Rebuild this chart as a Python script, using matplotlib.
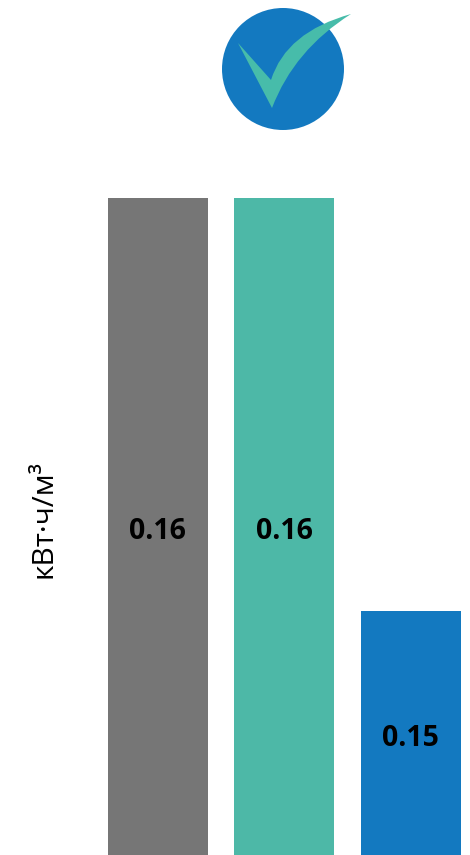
import matplotlib.pyplot as plt
from matplotlib.patches import Circle, PathPatch
from matplotlib.path import Path

# donnees
categories = ["A", "B", "C"]
positions = [0, 1, 2]
values = [0.16, 0.16, 0.15]
labels = ["0.16", "0.16", "0.15"]
colors = ["#767676", "#4DB8A7", "#1379C0"]
y_label = "кВт·ч/м³"

W, H = 470, 855
plt.rcParams['font.family'] = ['Open Sans', 'DejaVu Sans']

fig = plt.figure(figsize=(W / 100, H / 100), dpi=100)

# axes coupes : le bas de l'axe n'est pas a zero
ax = fig.add_axes([0, 0, 1, (H - 198) / H])
ax.bar(positions, values, width=0.79, color=colors)
ax.set_xlim(-157.8 / 126.5, (W - 157.8) / 126.5)
ax.set_ylim(0.1441, 0.16)
ax.axis('off')

for x, v, lab in zip(positions, values, labels):
    ax.text(x, 0.1441 + (v - 0.1441) / 2 - 0.00012, lab, ha='center', va='center',
            fontsize=20.5, fontweight='bold', color='black')

fig.text(44 / W, 1 - 519 / H, y_label, rotation=90, ha='center', va='center',
         fontsize=21.5, color='black')

# icone en pixels
icon = fig.add_axes([0, 0, 1, 1], facecolor='none')
icon.set_xlim(0, W)
icon.set_ylim(H, 0)
icon.axis('off')
icon.add_patch(Circle((283, 69), 61, color="#1379C0", lw=0))
verts = [(238, 43), (271, 80),
         (286, 32), (351, 14),
         (294, 50), (272, 108),
         (238, 43)]
codes = [Path.MOVETO, Path.LINETO,
         Path.CURVE3, Path.CURVE3,
         Path.CURVE3, Path.CURVE3,
         Path.CLOSEPOLY]
icon.add_patch(PathPatch(Path(verts, codes), facecolor="#47BCAA", lw=0))

fig.savefig("out.png", dpi=100)
